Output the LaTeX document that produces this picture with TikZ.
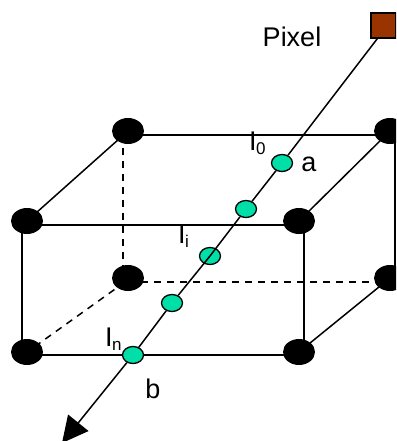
\documentclass[tikz,border=0pt]{standalone}
\usepackage{fontspec}
\setmainfont{Liberation Sans}
\usetikzlibrary{shapes.geometric,arrows.meta}
\newcommand{\Isub}[1]{I\kern-0.5pt\raisebox{-4pt}{\fontsize{17}{18}\selectfont #1}}
\definecolor{sampleGreen}{HTML}{00DFA8}
\definecolor{pixelBrown}{HTML}{993300}
\tikzset{
  vertex/.style={ellipse,fill=black,draw=none,minimum width=32pt,minimum height=26pt,inner sep=0pt},
  sample/.style={ellipse,fill=sampleGreen,draw=black,line width=1.3pt,minimum width=21pt,minimum height=17pt,inner sep=0pt},
  edge/.style={line width=1.5pt,black},
  hidden/.style={line width=1.5pt,black,dash pattern=on 7pt off 6pt},
  ray/.style={line width=1.5pt,black},
  lbl/.style={inner sep=0pt,font=\fontsize{27}{29}\selectfont}
}
\begin{document}
\begin{tikzpicture}[x=1pt,y=-1pt]
\useasboundingbox (0,0) rectangle (396,441);
\clip (0,0) rectangle (396,441);
% vertices
\coordinate (tbl) at (128,131);
\coordinate (tbr) at (390,131);
\coordinate (tfl) at (27,221);
\coordinate (tfr) at (299,221);
\coordinate (bbl) at (128,278);
\coordinate (bbr) at (390,278);
\coordinate (bfl) at (27,352);
\coordinate (bfr) at (299,352);
% hidden edges
\draw[hidden] ([shift={(-5,4)}]tbl) -- ([shift={(-5,4)}]bbl);
\draw[hidden] ([shift={(0,4)}]bbl) -- ([shift={(0,4)}]bbr);
\draw[hidden] ([shift={(-3,4)}]bbl) -- ([shift={(3,-2)}]bfl);
% visible edges
\draw[edge] ([shift={(0,4)}]tbl) -- ([shift={(0,4)}]tbr);
\draw[edge] ([shift={(0,4)}]tfl) -- ([shift={(0,4)}]tfr);
\draw[edge] ([shift={(0,3)}]bfl) -- ([shift={(0,3)}]bfr);
\draw[edge] ([shift={(-5,0)}]tfl) -- ([shift={(-5,0)}]bfl);
\draw[edge] ([shift={(5,0)}]tfr) -- ([shift={(5,0)}]bfr);
\draw[edge] ([shift={(5,0)}]tbr) -- ([shift={(5,0)}]bbr);
\draw[edge] (tbl) -- (tfl);
\draw[edge] (tbr) -- (tfr);
\draw[edge] (bbr) -- (bfr);
% nodes
\foreach \n in {tbl,tbr,tfl,tfr,bbl,bbr,bfl,bfr}{\node[vertex] (v\n) at (\n) {};}
% pixel
\node[draw=black,line width=1.5pt,fill=pixelBrown,minimum size=25pt,inner sep=0pt] (pixel) at (383.5,25.5) {};
\coordinate (tip) at (62,443);
% samples
\node[sample] (s0) at (282,163) {};
\node[sample] (s1) at (246,209) {};
\node[sample] (s2) at (210,256) {};
\node[sample] (s3) at (172,303) {};
\node[sample] (s4) at (133,355) {};
% ray
\draw[ray] (pixel.south west) ++(7,0) -- (s0);
\draw[ray] (s0) -- (s1);
\draw[ray] (s1) -- (s2.center);
\draw[ray] (s2.center) -- (s3);
\draw[ray] (s3) -- (s4);
\draw[ray,-{Triangle[length=26pt,width=26pt]}] (s4) -- (tip);
% labels
\node[lbl] (tpixel) at (292,37) {Pixel};
\node[lbl,anchor=base west] (t0) at (249,150) {\Isub{0}};
\node[lbl] (ta) at (309,164) {a};
\node[lbl,anchor=base west] (ti) at (178,243) {\Isub{i}};
\node[lbl,anchor=base west] (tn) at (105,346) {\Isub{n}};
\node[lbl] (tb) at (153,389) {b};
\end{tikzpicture}
\end{document}
